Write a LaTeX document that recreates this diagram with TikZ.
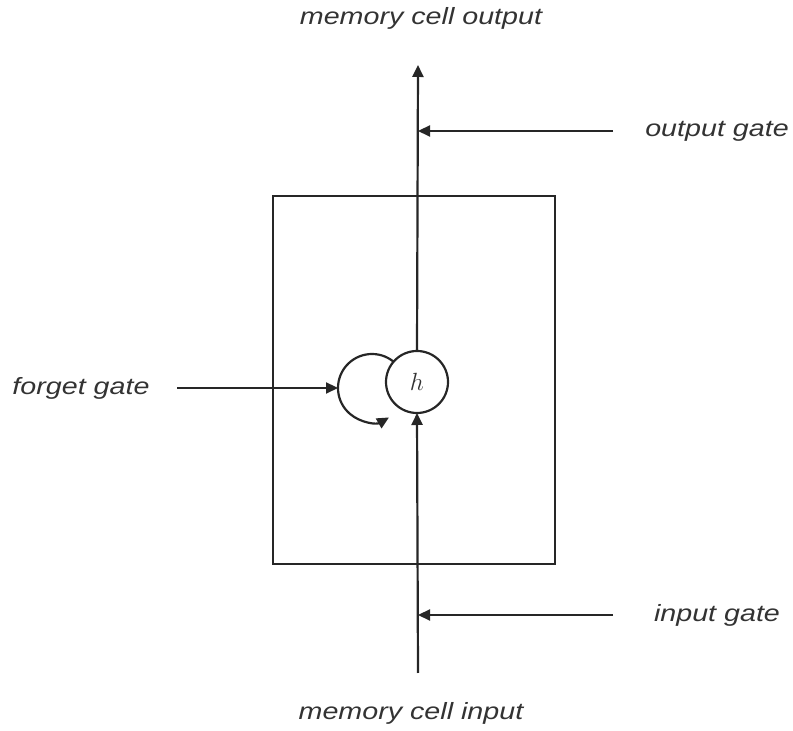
\documentclass[tikz,border=0pt]{standalone}
\usepackage{fontspec}
\setmainfont{Liberation Sans}[FakeStretch=1.22]
\usetikzlibrary{arrows.meta}
\begin{document}
\begin{tikzpicture}[x=1pt,y=1pt,
  line/.style={draw=black!85, line width=2.2pt},
  arr/.style={line, -{Triangle[length=12pt,width=11pt]}},
  lbl/.style={font=\fontsize{23.5}{28}\selectfont\itshape, text=black!80, inner sep=0pt},
  ]
\useasboundingbox (0,0) rectangle (793,731);
% box
\node[line, draw, rectangle, minimum width=282pt, minimum height=368pt, inner sep=0pt, outer sep=0pt] (box) at (414,351) {};
% h circle
\node[line, draw, circle, minimum size=62pt, inner sep=0pt, outer sep=0pt, font=\fontsize{27}{30}\selectfont, text=black!80] (h) at (417,349) {$h$};
% loop
\node[circle, minimum size=68pt, inner sep=0pt, outer sep=0pt] (loop) at (372,343) {};
\draw[arr] (loop.50) arc[start angle=50, end angle=300, radius=34pt];
% labels
\node[lbl] (mco) at (421,713) {memory cell output};
\node[lbl] (mci) at (411,18) {memory cell input};
\node[lbl] (og) at (717,600) {output gate};
\node[lbl] (ig) at (717,116) {input gate};
\node[lbl] (fg) at (81,343) {forget gate};
% coordinates
\coordinate (top) at (418,666);
\coordinate (bot) at (418,58);
\coordinate (ogs) at (613,600);
\coordinate (ogt) at (418,600);
\coordinate (igs) at (613,116);
\coordinate (igt) at (418,116);
\coordinate (fgs) at (177,343);
% connectors
\draw[arr] (bot) -- (h.south);
\draw[arr] (h.north) -- (top);
\draw[arr] (ogs) -- (ogt);
\draw[arr] (igs) -- (igt);
\draw[arr] (fgs) -- (loop.west);
\end{tikzpicture}
\end{document}
